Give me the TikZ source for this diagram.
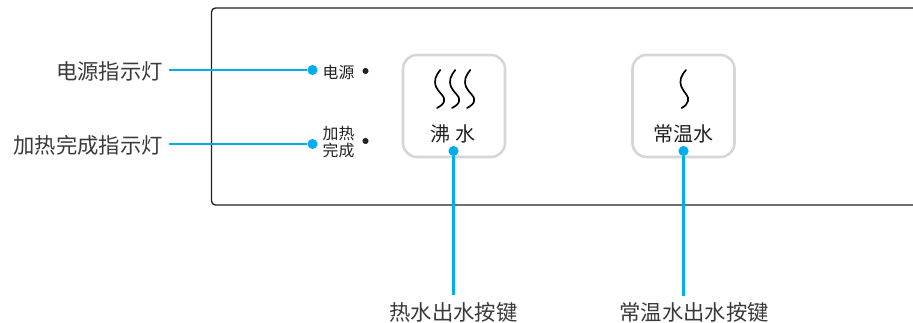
\documentclass[tikz,border=0pt]{standalone}
\usepackage{fontspec}
\setmainfont{Noto Sans CJK SC}
\definecolor{leader}{HTML}{00AEEF}
\definecolor{btn}{HTML}{D6D6D6}
\definecolor{ink}{HTML}{222222}
\definecolor{lbl}{HTML}{3A3A3A}
\tikzset{
  x=0.75pt,y=-0.75pt,
  calllabel/.style={text=lbl,font=\fontsize{16pt}{18pt}\selectfont,inner sep=0pt},
  panellabel/.style={text=ink,font=\fontsize{11.9pt}{12.4pt}\selectfont,inner sep=0pt,align=center},
  btnlabel/.style={text=ink,font=\fontsize{15pt}{18pt}\selectfont,inner sep=0pt},
  btnbox/.style={draw=btn,line width=1.9pt,rounded corners=10.5pt,fill=white,minimum width=76.5pt,minimum height=76.5pt,inner sep=0pt},
  leaderline/.style={draw=leader,line width=1.6pt},
  leaderdot/.style={circle,fill=leader,inner sep=0pt,minimum size=7.6pt},
  leddot/.style={circle,fill=ink,inner sep=0pt,minimum size=4.6pt},
  wave/.style={draw=black,line width=1.25pt,line cap=round},
  panel/.style={draw=ink,line width=1.0pt,rounded corners=3pt},
}
\begin{document}
\begin{tikzpicture}
\useasboundingbox (0,0) rectangle (913,323);
\fill[white] (0,0) rectangle (913,323);
\draw[panel] (913,8) -- (211.5,8) -- (211.5,205) -- (913,205);
% buttons
\node[btnbox] (b1) at (454,106) {};
\node[btnbox] (b2) at (683.5,106) {};
% steam waves
\foreach \d in {-0.4,14.6,29.6}{
  \draw[wave] (440.7+\d,70) .. controls (436+\d,76) and (434+\d,80) .. (436.5+\d,87)
     .. controls (439+\d,93) and (446+\d,96) .. (444.5+\d,101) .. controls (444+\d,104) and (441+\d,106) .. (437.5+\d,108);
}
\draw[wave] (686,70) .. controls (681,76) and (679,80) .. (681.5,87)
     .. controls (684,93) and (689.5,96) .. (688,101) .. controls (687.5,104) and (685,106) .. (681.7,108);
% button text
\node[btnlabel] (t1) at (453,134) {沸 水};
\node[btnlabel] (t2) at (683.5,134) {常温水};
% panel labels
\node[panellabel] (p1) at (338.5,72) {电源};
\node[panellabel] (p2) at (338.5,142) {加热\\完成};
\node[leddot] (l1) at (365.5,71) {};
\node[leddot] (l2) at (365.5,141) {};
% dots
\node[leaderdot] (d1) at (312.5,70) {};
\node[leaderdot] (d2) at (312.5,144) {};
\node[leaderdot] (d3) at (453.5,151) {};
\node[leaderdot] (d4) at (683.5,151) {};
% callouts
\node[calllabel,anchor=east] (c1) at (163,71) {电源指示灯};
\node[calllabel,anchor=east] (c2) at (163,145.5) {加热完成指示灯};
\node[calllabel] (c3) at (453.5,312) {热水出水按键};
\node[calllabel] (c4) at (694,312) {常温水出水按键};
\coordinate (s1) at (169,70);
\coordinate (s2) at (169,144);
\coordinate (e3) at (453.5,295);
\coordinate (e4) at (683.5,296);
\draw[leaderline] (s1) -- (d1);
\draw[leaderline] (s2) -- (d2);
\draw[leaderline] (d3) -- (e3);
\draw[leaderline] (d4) -- (e4);
\end{tikzpicture}
\end{document}
